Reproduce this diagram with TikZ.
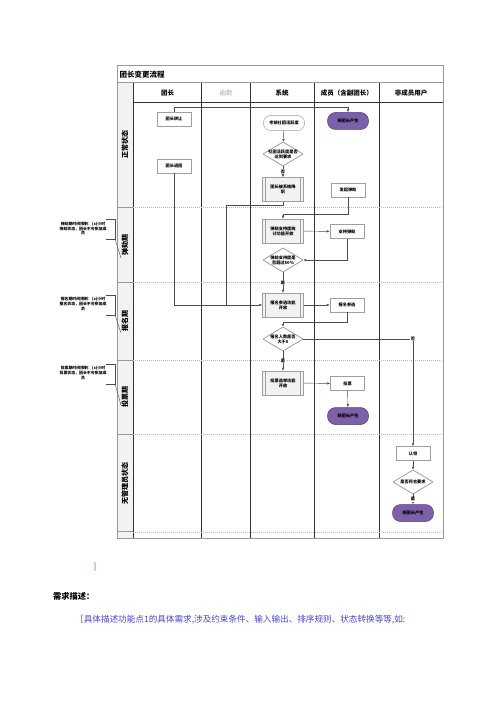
\documentclass[tikz,border=0pt]{standalone}
\usepackage{fontspec}
\setmainfont{Noto Sans CJK SC}
\usetikzlibrary{arrows.meta}
\definecolor{purp}{RGB}{124,96,168}
\definecolor{purpd}{RGB}{86,64,126}
\definecolor{bluetxt}{RGB}{72,72,204}
\definecolor{lanegray}{RGB}{242,242,242}
\begin{document}
\begin{tikzpicture}[x=1pt,y=-1pt,
  nodefont/.style={font=\fontsize{4.2}{5.2}\selectfont\bfseries},
  proc/.style={nodefont,rectangle,draw=gray!75,fill=white,line width=0.5pt,minimum width=34pt,minimum height=14pt,inner sep=0pt,align=center},
  predef/.style={nodefont,rectangle,draw=gray!75,fill=gray!10,line width=0.5pt,minimum width=41pt,minimum height=24pt,inner sep=0pt,align=center,
    path picture={\draw[gray!75,line width=0.4pt]
      ([xshift=3pt]path picture bounding box.north west) -- ([xshift=3pt]path picture bounding box.south west)
      ([xshift=-3pt]path picture bounding box.north east) -- ([xshift=-3pt]path picture bounding box.south east);}},
  decide/.style={nodefont,rectangle,minimum width=40pt,minimum height=24pt,inner sep=0pt,align=center,
    path picture={\draw[gray!75,fill=white,line width=0.8pt]
      (path picture bounding box.north) -- (path picture bounding box.east) -- (path picture bounding box.south) -- (path picture bounding box.west) -- cycle;}},
  startbox/.style={nodefont,rectangle,rounded corners=7pt,draw=gray!75,fill=white,line width=0.5pt,minimum width=41pt,minimum height=15pt,inner sep=0pt},
  newlead/.style={nodefont,rectangle,rounded corners=8pt,draw=purpd,fill=purp,line width=0.5pt,minimum width=41pt,minimum height=17pt,inner sep=0pt,text=black},
  lbl/.style={nodefont,fill=white,inner sep=0.5pt},
  arr/.style={draw=black!70,line width=0.45pt,-{Latex[length=3pt,width=2.4pt]}},
  conn/.style={draw=black!70,line width=0.45pt},
  lane/.style={draw=black!80,line width=0.7pt},
  divider/.style={draw=gray!55,line width=0.4pt,dash pattern=on 1pt off 1pt},
  hdr/.style={font=\fontsize{6.5}{7}\selectfont\bfseries},
  phase/.style={font=\fontsize{7}{8}\selectfont\bfseries,rotate=90},
  ann/.style={font=\fontsize{3.9}{4.8}\selectfont\bfseries,align=center,inner sep=0pt},
  brk/.style={draw=black!70,line width=0.4pt}
]
\useasboundingbox (0,0) rectangle (500,708);
\fill[white] (0,0) rectangle (500,708);

% phase column cells
\fill[lanegray] (117,82.7) rectangle (133,538.3);
% outer frame and grid
\draw[draw=gray!80,line width=0.6pt] (117,65.7) rectangle (443,538.3);
\draw[draw=gray!80,line width=0.6pt] (117,82.7) -- (443,82.7);
\draw[lane] (133,102.7) -- (443,102.7);
\foreach \xx in {133,201.7,250,314.3,379.3} {\draw[lane] (\xx,82.7) -- (\xx,538.3);}
\foreach \yy in {207.7,282.3,360,434.3,531.7} {
  \draw[draw=gray!80,line width=0.6pt] (117,\yy) -- (133,\yy);
  \draw[divider] (133,\yy) -- (443,\yy);}

% title and headers
\node[font=\fontsize{7.5}{8}\selectfont\bfseries,anchor=west,inner sep=0pt] (title) at (119.5,74.2) {团长变更流程};
\node[hdr] (h1) at (167.5,92.7) {团长};
\node[hdr,text=gray!70,font=\fontsize{6.5}{7}\selectfont] (h2) at (226,92.7) {函数};
\node[hdr] (h3) at (282,92.7) {系统};
\node[hdr] (h4) at (346.8,92.7) {成员（含副团长）};
\node[hdr] (h5) at (411.2,92.7) {非成员用户};

% phase labels
\node[phase] (p1) at (125,145) {正常状态};
\node[phase] (p2) at (125,245) {弹劾期};
\node[phase] (p3) at (125,321) {报名期};
\node[phase] (p4) at (125,397) {投票期};
\node[phase] (p5) at (125,483) {无管理员状态};

% annotations
\node[ann] (a1) at (83,228.7) {弹劾期时间限制：(x)小时\\弹劾状态，团长不可参加成\\员};
\node[ann] (a2) at (83,304) {报名期时间限制：(x)小时\\报名状态，团长不可参加成\\员};
\node[ann] (a3) at (83,373) {投票期时间限制：(x)小时\\投票状态，团长不可参加成\\员};
\coordinate (c1) at (121,258);
\coordinate (c2) at (121,333);
\coordinate (c3) at (121,405);
\draw[brk] (106,219) -- (115,219) -- (115,239) -- (106,239);
\draw[brk] (115,239) -- (c1);
\draw[brk] (106,295) -- (115,295) -- (115,315) -- (106,315);
\draw[brk] (115,315) -- (c2);
\draw[brk] (106,364) -- (115,364) -- (115,384) -- (106,384);
\draw[brk] (115,384) -- (c3);

% nodes
\node[proc] (zr) at (174,119) {团长转让};
\node[proc] (tt) at (174,166) {团长退团};
\node[startbox] (kh) at (284,123) {考核社团活跃度};
\node[decide] (d1) at (283,154) {社团活跃度是否\\达到要求};
\node[predef] (jz) at (283,189.5) {团长被系统降\\职};
\node[proc] (fq) at (348,190) {发起弹劾};
\node[predef] (tj) at (283,231) {弹劾支持度统\\计功能开放};
\node[proc] (zc) at (347,231.5) {支持弹劾};
\node[decide] (d2) at (283,260) {弹劾支持度是\\否超过50\%};
\node[predef] (bk) at (283,305) {报名参选功能\\开放};
\node[proc] (bx) at (347,305) {报名参选};
\node[decide] (d3) at (283,339) {报名人数是否\\大于0};
\node[predef] (tp) at (283,383) {投票选举功能\\开放};
\node[proc] (tv) at (347.5,383.5) {投票};
\node[newlead] (n1) at (348,121) {新团长产生};
\node[newlead] (n2) at (348,416) {新团长产生};
\node[proc] (rl) at (413,453.5) {认领};
\node[decide] (d4) at (413,482) {是否符合要求};
\node[newlead] (n3) at (413,513) {新团长产生};

% connectors
\draw[arr] (zr.north) -- (174,107.7) -| (n1.north);
\draw[arr] (kh) -- (d1);
\draw[arr] (d1) -- node[lbl]{否} (jz);
\draw[arr] (jz.south) -- (283,205) -- (226.5,205) -- (226.5,305) -- (bk.west);
\draw[conn] (tt.south) -- (174,305) -- (226.5,305);
\draw[arr] (fq.south) -- (348,214) -- (283,214) -- (tj.north);
\draw[arr] (tj) -- (zc);
\draw[arr] (zc.south) |- (d2.east);
\draw[arr] (d2) -- node[lbl]{是} (bk);
\draw[arr] (bk) -- (bx);
\draw[arr] (bx.south) -- (347,322.5) -- (283,322.5) -- (d3.north);
\draw[arr] (d3.east) -| node[lbl]{否} (rl.north);
\draw[arr] (d3) -- node[lbl]{是} (tp);
\draw[arr] (tp) -- (tv);
\draw[arr] (tv) -- (n2);
\draw[arr] (rl) -- (d4);
\draw[arr] (d4) -- node[lbl]{是} (n3);

% text below
\node[text=bluetxt,font=\fontsize{8}{9}\selectfont,inner sep=0pt] (rb) at (95,567.5) {]};
\node[font=\fontsize{8.2}{9}\selectfont\bfseries,anchor=west,inner sep=0pt] (xq) at (53,596) {需求描述：};
\node[text=bluetxt,font=\fontsize{8.6}{9}\selectfont,anchor=west,inner sep=0pt] (ms) at (75,619.5) {［具体描述功能点1的具体需求,涉及约束条件、输入输出、排序规则、状态转换等等,如:};
\end{tikzpicture}
\end{document}
